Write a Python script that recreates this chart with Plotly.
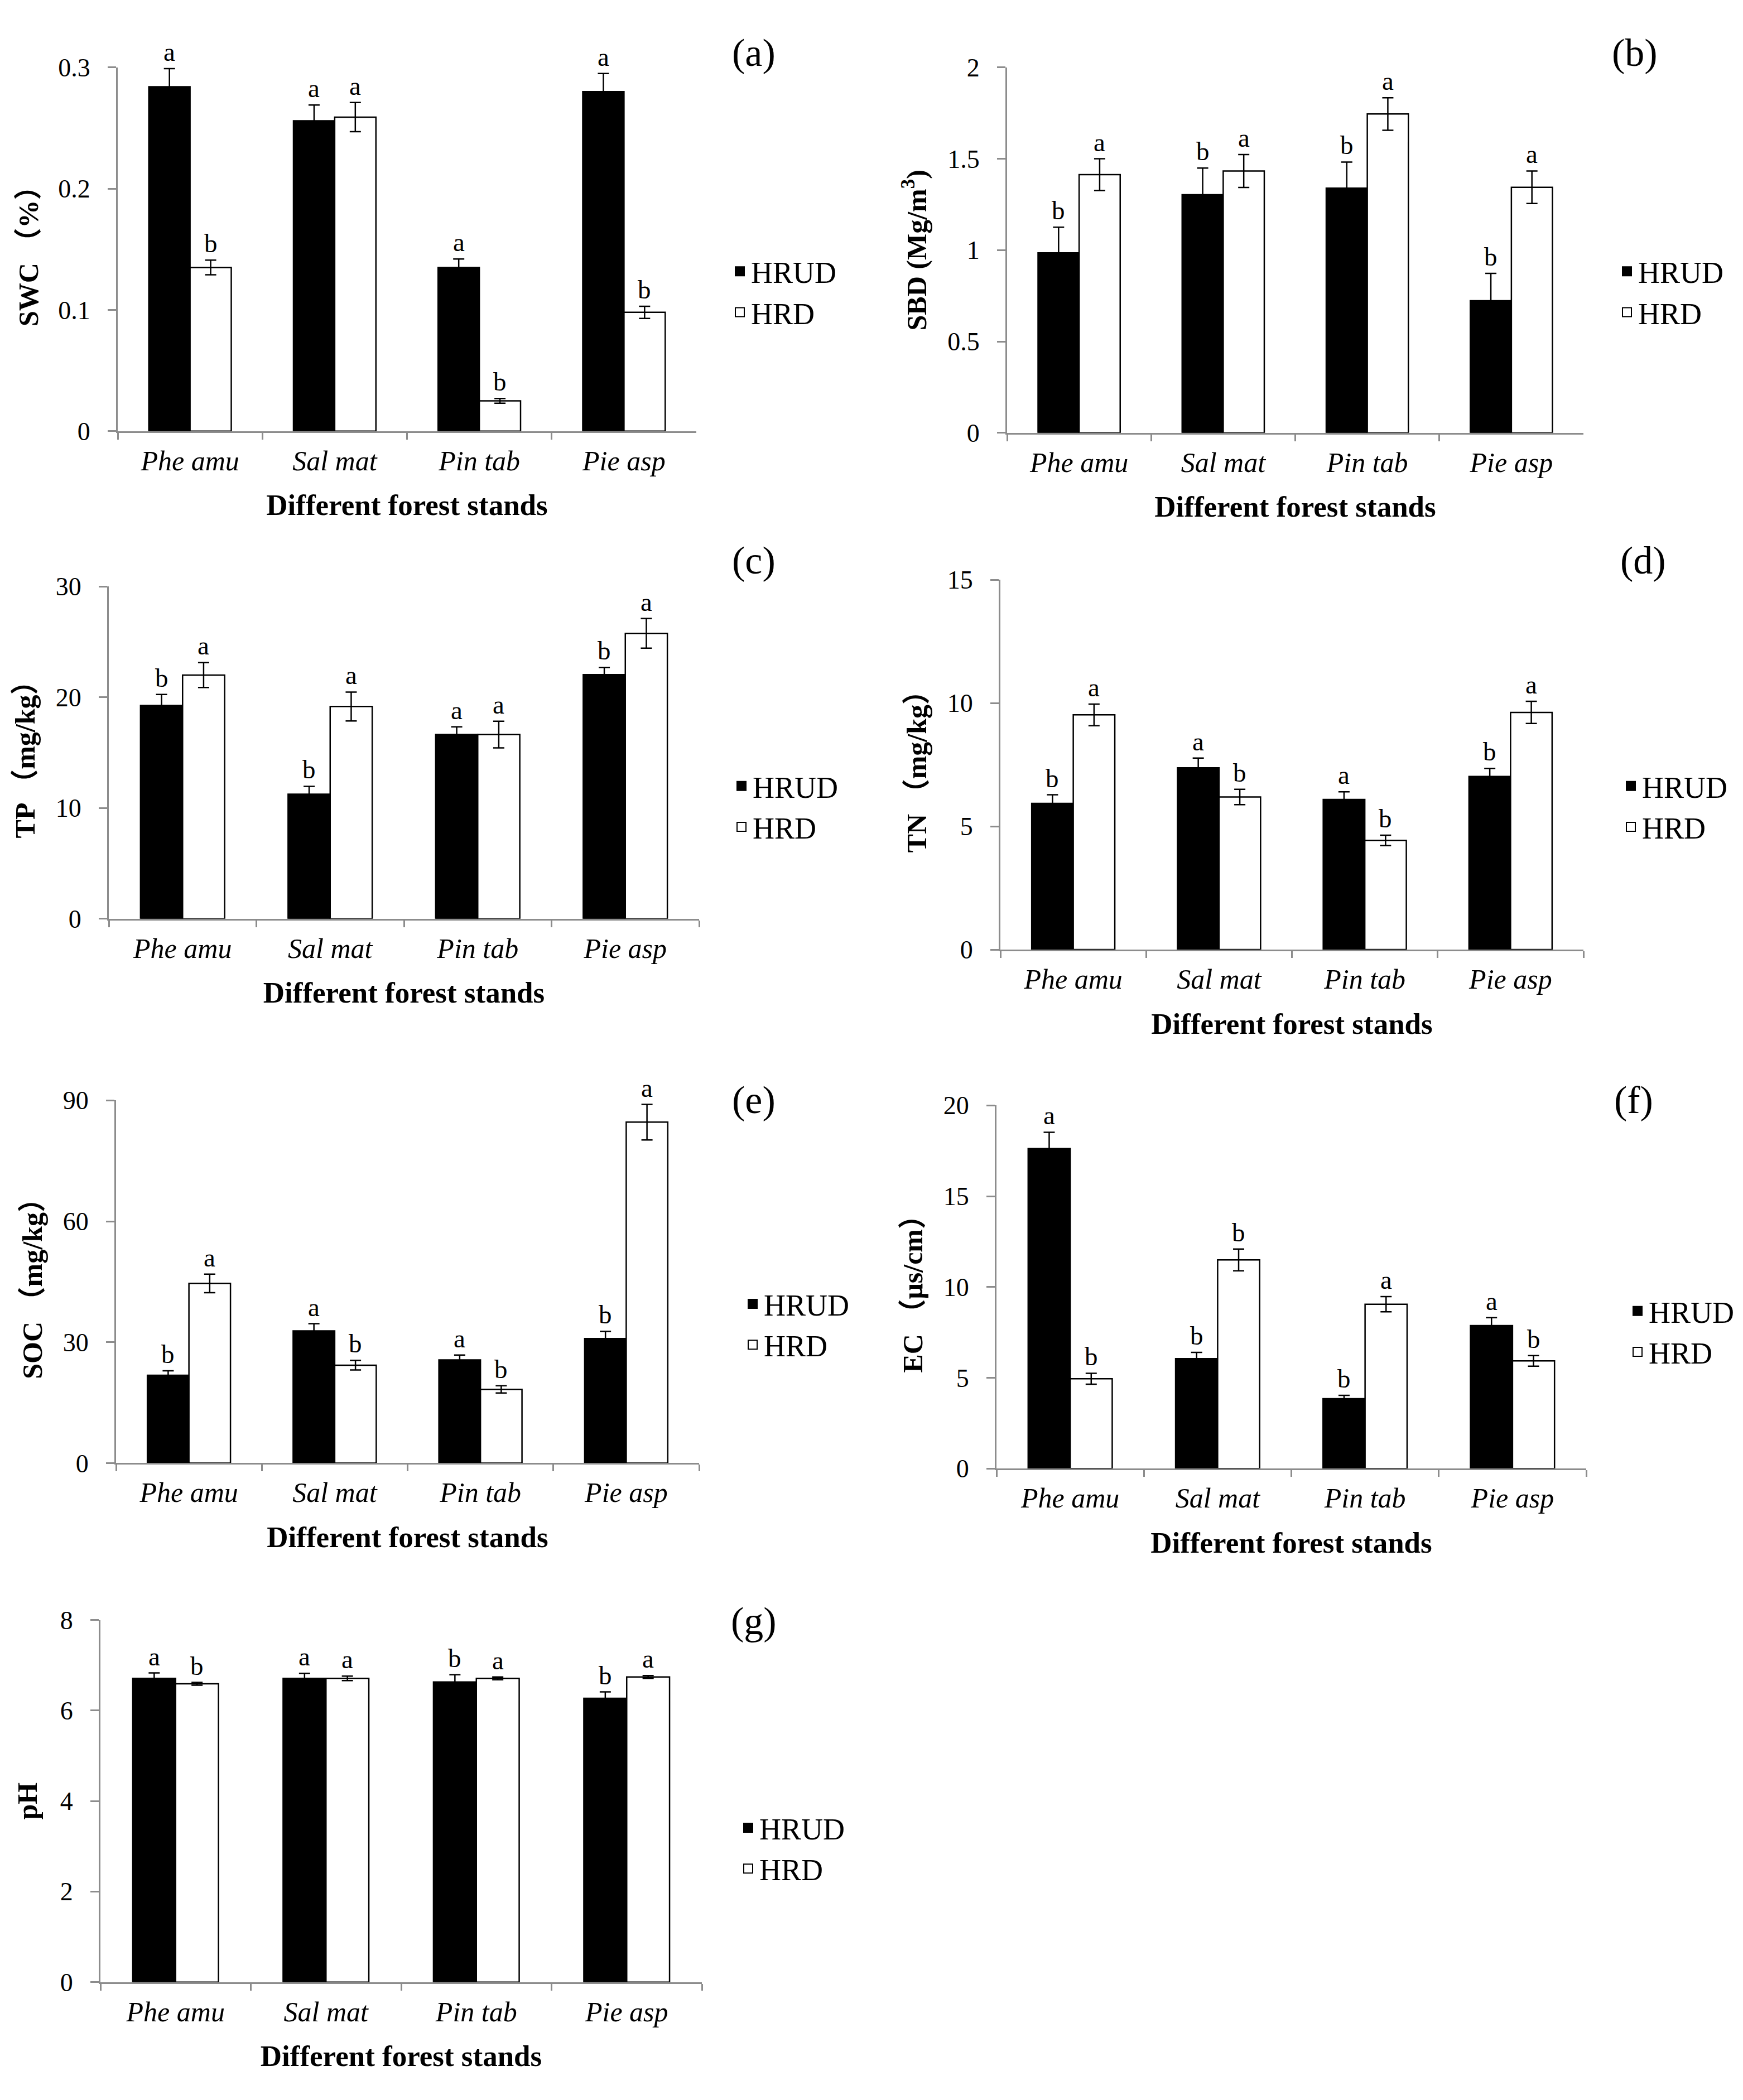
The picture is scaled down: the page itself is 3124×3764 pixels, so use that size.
import plotly.graph_objects as go

W, H = 3124, 3764

categories = ["Phe amu", "Sal mat", "Pin tab", "Pie asp"]
series_names = ["HRUD", "HRD"]

swc_hrud = [0.284, 0.256, 0.135, 0.280]
swc_hrud_err = [0.015, 0.013, 0.007, 0.015]
swc_hrd = [0.135, 0.259, 0.025, 0.098]
swc_hrd_err = [0.006, 0.012, 0.002, 0.005]
swc_hrud_sig = ["a", "a", "a", "a"]
swc_hrd_sig = ["b", "a", "b", "b"]

sbd_hrud = [0.985, 1.303, 1.339, 0.723]
sbd_hrud_err = [0.14, 0.146, 0.143, 0.15]
sbd_hrd = [1.413, 1.433, 1.745, 1.344]
sbd_hrd_err = [0.087, 0.09, 0.089, 0.089]
sbd_hrud_sig = ["b", "b", "b", "b"]
sbd_hrd_sig = ["a", "a", "a", "a"]

tp_hrud = [19.25, 11.25, 16.63, 22.03]
tp_hrud_err = [1.0, 0.7, 0.7, 0.66]
tp_hrd = [22.0, 19.16, 16.63, 25.76]
tp_hrd_err = [1.13, 1.3, 1.2, 1.34]
tp_hrud_sig = ["b", "b", "a", "b"]
tp_hrd_sig = ["a", "a", "a", "a"]

tn_hrud = [5.93, 7.37, 6.09, 7.02]
tn_hrud_err = [0.35, 0.4, 0.31, 0.33]
tn_hrd = [9.52, 6.19, 4.43, 9.62]
tn_hrd_err = [0.44, 0.31, 0.21, 0.45]
tn_hrud_sig = ["b", "a", "a", "b"]
tn_hrd_sig = ["a", "b", "b", "a"]

soc_hrud = [21.8, 32.8, 25.6, 30.9]
soc_hrud_err = [1.1, 1.8, 1.2, 1.8]
soc_hrd = [44.6, 24.3, 18.3, 84.6]
soc_hrd_err = [2.3, 1.2, 0.9, 4.4]
soc_hrud_sig = ["b", "a", "a", "b"]
soc_hrd_sig = ["a", "b", "b", "a"]

ec_hrud = [17.62, 6.05, 3.85, 7.87]
ec_hrud_err = [0.9, 0.35, 0.18, 0.44]
ec_hrd = [4.95, 11.49, 9.05, 5.93]
ec_hrd_err = [0.3, 0.6, 0.42, 0.29]
ec_hrud_sig = ["a", "b", "b", "a"]
ec_hrd_sig = ["b", "b", "a", "b"]

ph_hrud = [6.71, 6.71, 6.63, 6.27]
ph_hrud_err = [0.12, 0.11, 0.16, 0.14]
ph_hrd = [6.59, 6.71, 6.71, 6.74]
ph_hrd_err = [0.03, 0.05, 0.03, 0.03]
ph_hrud_sig = ["a", "a", "b", "b"]
ph_hrd_sig = ["b", "a", "a", "a"]

y_titles = ["SWC （%）", "SBD (Mg/m<sup>3</sup>)", "TP （mg/kg）", "TN （mg/kg）",
            "SOC （mg/kg）", "EC （μs/cm）", "pH"]
panel_labels = ["(a)", "(b)", "(c)", "(d)", "(e)", "(f)", "(g)"]
y_max = [0.3, 2, 30, 15, 90, 20, 8]
y_dtick = [0.1, 0.5, 10, 5, 30, 5, 2]
x_title = "Different forest stands"

panels = [
    (swc_hrud, swc_hrud_err, swc_hrd, swc_hrd_err, swc_hrud_sig, swc_hrd_sig),
    (sbd_hrud, sbd_hrud_err, sbd_hrd, sbd_hrd_err, sbd_hrud_sig, sbd_hrd_sig),
    (tp_hrud, tp_hrud_err, tp_hrd, tp_hrd_err, tp_hrud_sig, tp_hrd_sig),
    (tn_hrud, tn_hrud_err, tn_hrd, tn_hrd_err, tn_hrud_sig, tn_hrd_sig),
    (soc_hrud, soc_hrud_err, soc_hrd, soc_hrd_err, soc_hrud_sig, soc_hrd_sig),
    (ec_hrud, ec_hrud_err, ec_hrd, ec_hrd_err, ec_hrud_sig, ec_hrd_sig),
    (ph_hrud, ph_hrud_err, ph_hrd, ph_hrd_err, ph_hrud_sig, ph_hrd_sig),
]

# layout geometry in pixels: x0, x1, y_top(value max), y_bottom(zero)
geom = [
    (203, 1240, 89, 750),
    (1797, 2830, 89, 753),
    (187, 1245, 1032, 1636),
    (1785, 2830, 1020, 1692),
    (200, 1245, 1966, 2625),
    (1778, 2835, 1975, 2635),
    (172, 1250, 2910, 3568),
]
legend_pos = [(1298, 497), (2888, 497), (1301, 1432), (2895, 1432),
              (1321, 2373), (2907, 2386), (1313, 3325)]
label_pos = [(1343, 62), (2922, 62), (1343, 985), (2937, 985),
             (1343, 1965), (2920, 1965), (1343, 2912)]
ytitle_standoff = [20, 22, 22, 22, 22, 22, 26]

SERIF = "Liberation Serif, Times New Roman, Noto Sans CJK SC, serif"
AXIS_GRAY = "#8c8c8c"
BARGAP = 0.43

fig = go.Figure()
layout = dict(
    width=W, height=H, margin=dict(l=0, r=0, t=0, b=0),
    paper_bgcolor="white", plot_bgcolor="white",
    barmode="group", bargap=BARGAP, bargroupgap=0,
    font=dict(family=SERIF, color="black", size=46),
    annotations=[],
)

for i, (hrud, hrud_e, hrd, hrd_e, sig1, sig2) in enumerate(panels):
    n = i + 1
    xa = "x" if n == 1 else f"x{n}"
    ya = "y" if n == 1 else f"y{n}"
    lg = "legend" if n == 1 else f"legend{n}"
    x0, x1, yt, yb = geom[i]
    fills = ["black", "white"]
    vals = [hrud, hrd]
    errs = [hrud_e, hrd_e]
    sigs = [sig1, sig2]
    for s in range(2):
        fig.add_trace(go.Bar(
            x=categories, y=vals[s], name=series_names[s], xaxis=xa, yaxis=ya,
            marker=dict(color=fills[s], line=dict(color="black", width=2.5)),
            error_y=dict(type="data", array=errs[s], visible=True,
                         color="black", thickness=2.5, width=10),
            showlegend=False, legend=lg,
        ))
        fig.add_trace(go.Scatter(
            x=[None], y=[None], mode="markers", name=series_names[s],
            xaxis=xa, yaxis=ya, legend=lg, showlegend=True,
            marker=dict(symbol="square", size=24, color=fills[s],
                        line=dict(color="black", width=2)),
        ))
    # significance letters
    cat_px = (x1 - x0) / len(categories)
    bar_px = cat_px * (1 - BARGAP) / 2
    for s in range(2):
        shift = -bar_px / 2 if s == 0 else bar_px / 2
        for c, cat in enumerate(categories):
            layout["annotations"].append(dict(
                x=cat, y=vals[s][c] + errs[s][c], xref=xa, yref=ya,
                text=sigs[s][c], showarrow=False, xshift=shift, yshift=2,
                yanchor="bottom", xanchor="center",
                font=dict(family=SERIF, size=47, color="black"),
            ))
    # axes
    xkey = "xaxis" if n == 1 else f"xaxis{n}"
    ykey = "yaxis" if n == 1 else f"yaxis{n}"
    layout[xkey] = dict(
        domain=[x0 / W, x1 / W], anchor=ya, type="category",
        showline=True, linecolor=AXIS_GRAY, linewidth=3,
        ticks="outside", tickson="boundaries", ticklen=12, tickwidth=2.5,
        tickcolor=AXIS_GRAY, ticklabelstandoff=7,
        tickfont=dict(family=SERIF, size=50, style="italic", color="black"),
        showgrid=False, zeroline=False,
        title=dict(text=x_title, standoff=34,
                   font=dict(family=SERIF, size=53, weight="bold", color="black")),
    )
    layout[ykey] = dict(
        domain=[1 - yb / H, 1 - yt / H], anchor=xa,
        range=[0, y_max[i]], dtick=y_dtick[i], tick0=0,
        showline=True, linecolor=AXIS_GRAY, linewidth=3,
        ticks="outside", ticklen=15, tickwidth=2.5, tickcolor=AXIS_GRAY,
        ticklabelstandoff=22,
        tickfont=dict(family=SERIF, size=46, color="black"),
        showgrid=False, zeroline=False,
        title=dict(text=y_titles[i], standoff=ytitle_standoff[i],
                   font=dict(family=SERIF, size=50, weight="bold", color="black")),
    )
    lx, ly = legend_pos[i]
    layout[lg] = dict(
        x=lx / W, y=1 - ly / H, xanchor="left", yanchor="middle",
        bgcolor="rgba(0,0,0,0)", itemsizing="trace", itemwidth=30,
        font=dict(family=SERIF, size=54, color="black"),
    )
    px_, py_ = label_pos[i]
    layout["annotations"].append(dict(
        x=px_ / W, y=1 - py_ / H, xref="paper", yref="paper",
        text=panel_labels[i], showarrow=False, xanchor="center", yanchor="middle",
        font=dict(family=SERIF, size=70, color="black"),
    ))

fig.update_layout(**layout)
fig.write_html("out.html")
